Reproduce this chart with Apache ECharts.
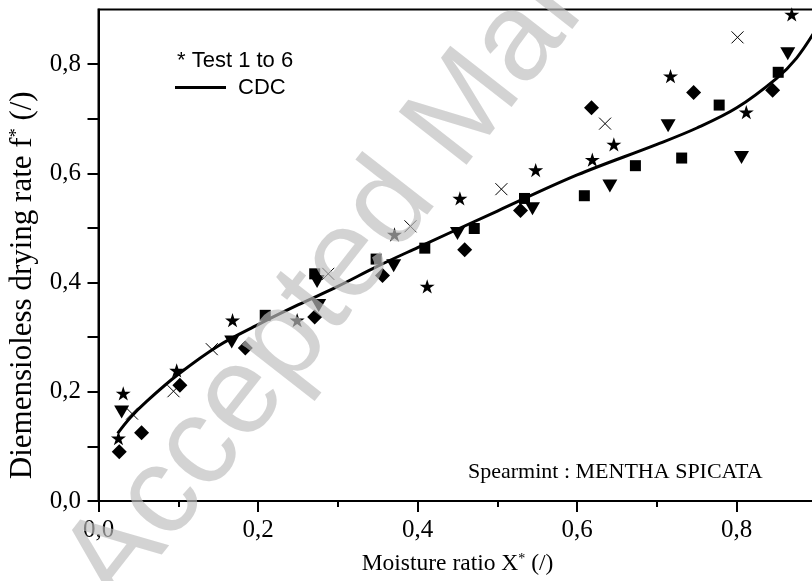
<!DOCTYPE html>
<html><head><meta charset="utf-8">
<script src="https://cdn.jsdelivr.net/npm/echarts@6/dist/echarts.min.js"></script>
<style>html,body{margin:0;padding:0;background:#fff}#c{width:812px;height:581px}</style>
</head><body><div id="c"></div>
<script>
// ---- data ----
const starData = [[0.031,0.197],[0.025,0.115],[0.098,0.239],[0.168,0.331],[0.249,0.331],[0.371,0.488],[0.412,0.393],[0.453,0.554],[0.548,0.606],[0.619,0.625],[0.646,0.653],[0.717,0.778],[0.812,0.712],[0.869,0.891]];
const triangleData = [[0.029,0.163],[0.167,0.291],[0.274,0.402],[0.276,0.358],[0.370,0.431],[0.450,0.490],[0.544,0.535],[0.641,0.577],[0.714,0.687],[0.806,0.629],[0.864,0.819]];
const squareData = [[0.209,0.340],[0.271,0.416],[0.348,0.443],[0.409,0.463],[0.471,0.499],[0.534,0.554],[0.609,0.559],[0.673,0.614],[0.731,0.628],[0.778,0.725],[0.852,0.785]];
const diamondData = [[0.026,0.090],[0.054,0.125],[0.102,0.212],[0.184,0.280],[0.271,0.337],[0.356,0.413],[0.459,0.460],[0.529,0.532],[0.618,0.720],[0.746,0.748],[0.845,0.752]];
const crossData = [[0.042,0.160],[0.094,0.201],[0.142,0.278],[0.288,0.416],[0.391,0.503],[0.505,0.571],[0.635,0.691],[0.801,0.849]];
const cdcCurve = [[0.024,0.124],[0.040,0.153],[0.060,0.182],[0.100,0.232],[0.150,0.284],[0.200,0.323],[0.250,0.359],[0.300,0.393],[0.350,0.430],[0.400,0.464],[0.500,0.531],[0.600,0.597],[0.700,0.653],[0.750,0.683],[0.800,0.720],[0.850,0.774],[0.875,0.811],[0.900,0.865]];
const xMajorTicks = [0, 0.2, 0.4, 0.6, 0.8];
const xMinorTicks = [0.1, 0.3, 0.5, 0.7];
const yTicks = [0, 0.1, 0.2, 0.3, 0.4, 0.5, 0.6, 0.7, 0.8];
const yLabelTicks = [0, 0.2, 0.4, 0.6, 0.8];
const xTitle = 'Moisture ratio X{sup|*} (/)';
const yTitle = 'Diemensioless drying rate f{sup|*} (/)';
const legendTestText = '* Test 1 to 6';
const legendLineText = 'CDC';
const noteText = 'Spearmint : MENTHA SPICATA';
const watermarkText = 'Accepted Manuscript';

const fmt = v => Number(v).toFixed(1).replace('.', ',');
const SERIF = '"Liberation Serif", "Times New Roman", serif';
const SANS = '"Liberation Sans", Arial, sans-serif';
const STAR = 'path://M50,0L61.2,34.5L97.6,34.5L68.2,55.9L79.4,90.5L50,69.1L20.6,90.5L31.8,55.9L2.4,34.5L38.8,34.5Z';
const CROSS = 'path://M0,0L10,10M10,0L0,10';

const chart = echarts.init(document.getElementById('c'), null, {renderer: 'canvas'});
const axisLineStyle = {color: '#000', width: 2};
const solid = {color: '#000', opacity: 1};
const option = {
  animation: false,
  backgroundColor: '#fff',
  grid: {left: 98.5, top: 9.5, right: -4.5, bottom: 80, show: true, borderColor: '#000', borderWidth: 2, backgroundColor: 'transparent', outerBoundsMode: 'none', containLabel: false},
  xAxis: [{
    type: 'value', min: 0, max: 0.9, position: 'bottom',
    axisLine: {show: true, onZero: false, lineStyle: axisLineStyle},
    axisTick: {show: true, customValues: xMajorTicks, length: 11, lineStyle: axisLineStyle},
    axisLabel: {customValues: xMajorTicks, formatter: fmt, margin: 17, fontFamily: SERIF, fontSize: 25, color: '#000'},
    splitLine: {show: false},
    name: xTitle, nameLocation: 'middle', nameGap: 51,
    nameTextStyle: {fontFamily: SERIF, fontSize: 23.5, color: '#000', rich: {sup: {fontFamily: SERIF, fontSize: 14, verticalAlign: 'top', color: '#000'}}}
  }, {
    type: 'value', min: 0, max: 0.9, position: 'bottom',
    axisLine: {show: false},
    axisTick: {show: true, customValues: xMinorTicks, length: 6, lineStyle: axisLineStyle},
    axisLabel: {show: false}, splitLine: {show: false}
  }],
  yAxis: {
    type: 'value', min: 0, max: 0.9,
    axisLine: {show: true, onZero: false, lineStyle: axisLineStyle},
    axisTick: {show: true, customValues: yTicks, length: 11, lineStyle: axisLineStyle},
    axisLabel: {customValues: yLabelTicks, formatter: fmt, margin: 17.5, fontFamily: SERIF, fontSize: 25, color: '#000'},
    splitLine: {show: false},
    name: yTitle, nameLocation: 'middle', nameGap: 51,
    nameTextStyle: {fontFamily: SERIF, fontSize: 31, color: '#000', padding: [0, 60, 0, 0], rich: {sup: {fontFamily: SERIF, fontSize: 18, verticalAlign: 'top', color: '#000'}}}
  },
  series: [
    {type: 'line', data: cdcCurve, smooth: 0.35, showSymbol: false, lineStyle: {color: '#000', width: 3, opacity: 1}, z: 2},
    {type: 'scatter', data: starData, symbol: STAR, symbolSize: 15, symbolKeepAspect: true, itemStyle: solid, z: 3},
    {type: 'scatter', data: triangleData, symbol: 'triangle', symbolSize: [15, 13], symbolRotate: 180, itemStyle: solid, z: 3},
    {type: 'scatter', data: squareData, symbol: 'rect', symbolSize: 11, itemStyle: solid, z: 3},
    {type: 'scatter', data: diamondData, symbol: 'diamond', symbolSize: 15, itemStyle: solid, z: 3},
    {type: 'scatter', data: crossData, symbol: CROSS, symbolSize: 12, itemStyle: {color: 'rgba(0,0,0,0)', borderColor: '#000', borderWidth: 1, opacity: 1}, z: 3}
  ],
  graphic: [
    {type: 'text', x: 177, y: 61, style: {text: legendTestText, font: '22px ' + SANS, fill: '#000', align: 'left', verticalAlign: 'middle'}},
    {type: 'line', shape: {x1: 175, y1: 87.5, x2: 226, y2: 87.5}, style: {stroke: '#000', lineWidth: 3}},
    {type: 'text', x: 238, y: 87.5, style: {text: legendLineText, font: '22px ' + SANS, fill: '#000', align: 'left', verticalAlign: 'middle'}},
    {type: 'text', x: 468, y: 472.5, style: {text: noteText, font: '22px ' + SERIF, fill: '#000', align: 'left', verticalAlign: 'middle'}},
    {type: 'text', x: 140, y: 628, rotation: 52 * Math.PI / 180, z: 200, style: {text: watermarkText, font: '125px ' + SANS, fill: 'rgba(190,190,190,0.67)', align: 'left', verticalAlign: 'bottom'}}
  ]
};
chart.setOption(option);
</script></body></html>
